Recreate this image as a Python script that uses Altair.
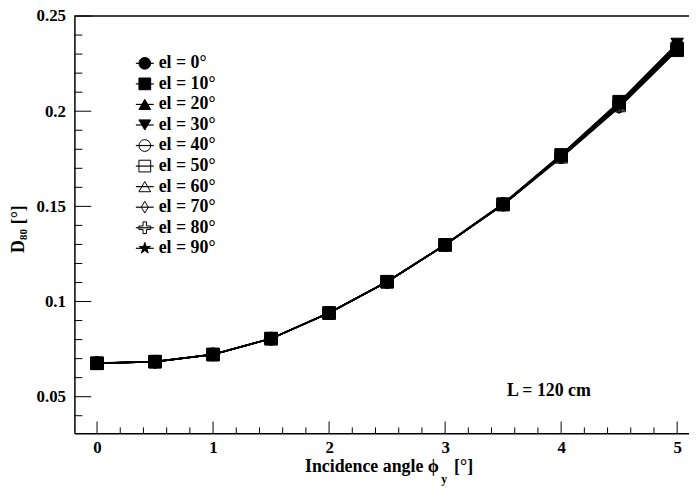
import altair as alt
import pandas as pd

# ---------------- data ----------------
incidence = [0.0, 0.5, 1.0, 1.5, 2.0, 2.5, 3.0, 3.5, 4.0, 4.5, 5.0]
labels = ["el = 0°", "el = 10°", "el = 20°", "el = 30°", "el = 40°",
          "el = 50°", "el = 60°", "el = 70°", "el = 80°", "el = 90°"]
d80_el0 = [0.0676, 0.0684, 0.0722, 0.0805, 0.0940, 0.1104, 0.1298, 0.1513, 0.1768, 0.2045, 0.2345]
d80_el10 = [0.0675, 0.0684, 0.0721, 0.0805, 0.0939, 0.1104, 0.1297, 0.1510, 0.1770, 0.2050, 0.2320]
d80_el20 = [0.0676, 0.0685, 0.0722, 0.0806, 0.0940, 0.1105, 0.1299, 0.1514, 0.1765, 0.2040, 0.2340]
d80_el30 = [0.0677, 0.0685, 0.0723, 0.0806, 0.0941, 0.1105, 0.1300, 0.1515, 0.1772, 0.2048, 0.2355]
d80_el40 = [0.0676, 0.0684, 0.0722, 0.0805, 0.0940, 0.1103, 0.1297, 0.1508, 0.1758, 0.2025, 0.2325]
d80_el50 = [0.0676, 0.0684, 0.0722, 0.0805, 0.0940, 0.1104, 0.1298, 0.1510, 0.1760, 0.2030, 0.2330]
d80_el60 = [0.0676, 0.0685, 0.0722, 0.0805, 0.0940, 0.1104, 0.1298, 0.1511, 0.1762, 0.2035, 0.2335]
d80_el70 = [0.0676, 0.0684, 0.0722, 0.0805, 0.0939, 0.1104, 0.1297, 0.1509, 0.1756, 0.2020, 0.2320]
d80_el80 = [0.0676, 0.0684, 0.0722, 0.0805, 0.0940, 0.1104, 0.1298, 0.1512, 0.1764, 0.2038, 0.2332]
d80_el90 = [0.0676, 0.0684, 0.0722, 0.0805, 0.0940, 0.1104, 0.1298, 0.1513, 0.1766, 0.2042, 0.2338]
series = [d80_el0, d80_el10, d80_el20, d80_el30, d80_el40,
          d80_el50, d80_el60, d80_el70, d80_el80, d80_el90]

x_major = [0, 1, 2, 3, 4, 5]
x_minor = [0.2, 0.4, 0.6, 0.8, 1.2, 1.4, 1.6, 1.8, 2.2, 2.4, 2.6, 2.8,
           3.2, 3.4, 3.6, 3.8, 4.2, 4.4, 4.6, 4.8]
y_major = [0.05, 0.1, 0.15, 0.2, 0.25]
y_minor = [0.04, 0.06, 0.07, 0.08, 0.09, 0.11, 0.12, 0.13, 0.14,
           0.16, 0.17, 0.18, 0.19, 0.21, 0.22, 0.23, 0.24]

x_title = "Incidence angle ϕ"
x_title_sub = "y"
x_title_unit = "[°]"
y_title = "D"
y_title_sub = "80"
y_title_unit = "[°]"
note = "L = 120 cm"

# marker styles (ROOT-like)
star = ("M0,-1L0.223,-0.307L0.951,-0.309L0.361,0.117L0.588,0.809L0,0.38"
        "L-0.588,0.809L-0.361,0.117L-0.951,-0.309L-0.223,-0.307Z")
open_cross = ("M-0.3,-1L0.3,-1L0.3,-0.3L1,-0.3L1,0.3L0.3,0.3L0.3,1L-0.3,1"
              "L-0.3,0.3L-1,0.3L-1,-0.3L-0.3,-0.3Z")
thin_diamond = "M0,-1L0.6,0L0,1L-0.6,0Z"
shapes = ["circle", "square", "triangle-up", "triangle-down", "circle",
          "square", "triangle-up", thin_diamond, open_cross, star]
fills = ["black", "black", "black", "black", "transparent",
         "transparent", "transparent", "transparent", "transparent", "black"]

rows = []
for lab, vals in zip(labels, series):
    for xv, yv in zip(incidence, vals):
        rows.append({"el": lab, "phi": xv, "d80": yv})
df = pd.DataFrame(rows)

FONT = "Liberation Serif"
W, H = 620, 421

xs = alt.Scale(domain=[-0.195, 5.102], nice=False, zero=False)
ys = alt.Scale(domain=[0.03073, 0.25], nice=False, zero=False)

shape_enc = alt.Shape("el:N", scale=alt.Scale(domain=labels, range=shapes), legend=None)
fill_enc = alt.Fill("el:N", scale=alt.Scale(domain=labels, range=fills), legend=None)

x_axis = alt.Axis(values=x_major, format="~g", ticks=False, grid=False, title=None,
                  domainColor="black", domainWidth=1.5, labelFont=FONT,
                  labelFontWeight="bold", labelFontSize=17, labelColor="black",
                  labelPadding=6)
y_axis = alt.Axis(values=y_major, format="~g", ticks=False, grid=False, title=None,
                  domainColor="black", domainWidth=1.5, labelFont=FONT,
                  labelFontWeight="bold", labelFontSize=17, labelColor="black",
                  labelPadding=9)

lines = alt.Chart(df).mark_line(color="black", strokeWidth=1.5).encode(
    x=alt.X("phi:Q", scale=xs, axis=x_axis),
    y=alt.Y("d80:Q", scale=ys, axis=y_axis),
    detail="el:N",
    order="phi:Q",
)

points = alt.Chart(df).mark_point(filled=True, stroke="black", strokeWidth=1,
                                  size=160, opacity=1).encode(
    x=alt.X("phi:Q", scale=xs, axis=x_axis),
    y=alt.Y("d80:Q", scale=ys, axis=None),
    shape=shape_enc,
    fill=fill_enc,
)

xmaj = alt.Chart(pd.DataFrame({"phi": x_major})).mark_rule(color="black", strokeWidth=1).encode(
    x=alt.X("phi:Q", scale=xs, axis=x_axis), y=alt.value(H), y2=alt.value(H - 12))
xmin = alt.Chart(pd.DataFrame({"phi": x_minor})).mark_rule(color="black", strokeWidth=1).encode(
    x=alt.X("phi:Q", scale=xs, axis=x_axis), y=alt.value(H), y2=alt.value(H - 6))
ymaj = alt.Chart(pd.DataFrame({"v": y_major})).mark_rule(color="black", strokeWidth=1).encode(
    y=alt.Y("v:Q", scale=ys, axis=None), x=alt.value(0), x2=alt.value(17))
ymin = alt.Chart(pd.DataFrame({"v": y_minor})).mark_rule(color="black", strokeWidth=1).encode(
    y=alt.Y("v:Q", scale=ys, axis=None), x=alt.value(0), x2=alt.value(8))

top_border = alt.Chart(pd.DataFrame({"a": [0]})).mark_rule(color="black", strokeWidth=1.5).encode(
    x=alt.value(0), x2=alt.value(W), y=alt.value(0))

# legend
leg_df = pd.DataFrame({"el": labels})
leg_y = alt.Y("el:N", scale=alt.Scale(type="point", domain=labels, range=[47.7, 234.3], padding=0),
              axis=None)
leg_line = alt.Chart(leg_df).mark_rule(color="black", strokeWidth=1.2).encode(
    y=leg_y, x=alt.value(62), x2=alt.value(80))
leg_pts = alt.Chart(leg_df).mark_point(filled=True, stroke="black", strokeWidth=1,
                                       size=140, opacity=1).encode(
    y=leg_y, x=alt.value(71), shape=shape_enc, fill=fill_enc)
leg_txt = alt.Chart(leg_df).mark_text(align="left", baseline="middle", font=FONT,
                                      fontWeight="bold", fontSize=18, color="black").encode(
    y=leg_y, x=alt.value(85), text="el:N")


def label(txt, x, y, size=18, align="left", angle=0):
    kw = dict(align=align, baseline="alphabetic", font=FONT, fontWeight="bold",
              fontSize=size, color="black")
    if angle:
        kw["angle"] = angle
    return alt.Chart(pd.DataFrame({"t": [txt]})).mark_text(**kw).encode(
        x=alt.value(x), y=alt.value(y), text="t:N")


xt1 = label(x_title, 367.7, 460, align="right")
xt2 = label(x_title_sub, 370, 471, size=12)
xt3 = label(x_title_unit, 383, 460)
yt1 = label(y_title, -51, 239, angle=270)
yt2 = label(y_title_sub, -48, 226, size=11, angle=270)
yt3 = label(y_title_unit, -51, 210, angle=270)
note_txt = label(note, 521, 383, align="right")

chart = alt.layer(
    lines, points, xmaj, xmin, ymaj, ymin, top_border,
    leg_line, leg_pts, leg_txt,
    xt1, xt2, xt3, yt1, yt2, yt3, note_txt,
).resolve_scale(y="independent").properties(
    width=W, height=H,
    padding={"left": 67, "top": 6, "right": 0, "bottom": 53},
    autosize=alt.AutoSizeParams(type="none"),
    background="white",
).configure_view(stroke=None)

chart.save("out.html", embed_options={"renderer": "svg", "actions": False})
